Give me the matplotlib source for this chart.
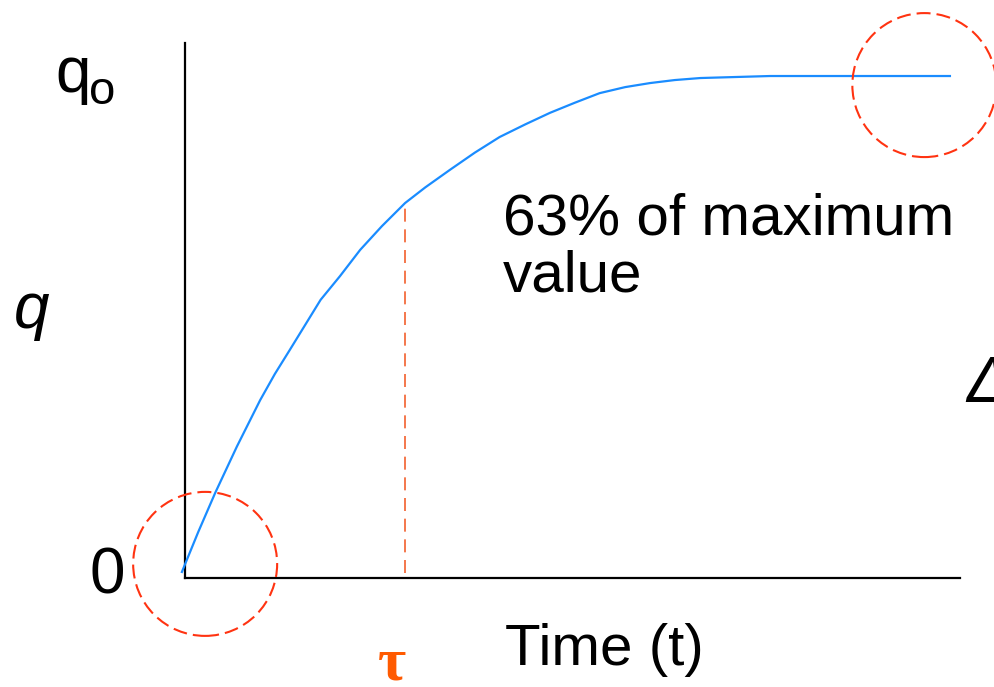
import matplotlib
matplotlib.use("Agg")
import matplotlib.pyplot as plt
from matplotlib.patches import Ellipse

# data (t in axis units 0..10, q as fraction of q0)
time_pts = [-0.04, 0.17, 0.39, 0.67, 0.97, 1.16, 1.35, 1.55, 1.75, 2.00,
            2.26, 2.54, 2.84, 3.10, 3.42, 3.74, 4.06, 4.39, 4.71, 5.03,
            5.35, 5.68, 6.00, 6.32, 6.65, 7.55, 8.62, 9.87]
q_pts = [0.012, 0.091, 0.169, 0.261, 0.353, 0.405, 0.452, 0.502, 0.552, 0.599,
         0.651, 0.698, 0.744, 0.775, 0.810, 0.844, 0.875, 0.900, 0.923, 0.943,
         0.962, 0.974, 0.982, 0.988, 0.992, 0.996, 0.996, 0.996]
tau = 2.84
q_at_tau = 0.744
circle_centres = [(0.26, 0.028), (9.54, 0.978)]

W, H = 995, 687
BLUE = '#1a8cff'
RED = '#ff3311'
ORANGE = '#f2602e'
FONT = 'Liberation Sans'

fig = plt.figure(figsize=(W / 100, H / 100), dpi=100)
ax = fig.add_axes([185 / W, 109 / H, 775 / W, 535 / H])
ax.set_xlim(0, 10)
ax.set_ylim(0, 535 / 504)
xpx = 775 / 10      # pixels per time unit
ypx = 504           # pixels per q unit

for s in ['top', 'right']:
    ax.spines[s].set_visible(False)
for s in ['left', 'bottom']:
    ax.spines[s].set_linewidth(1.6)
    ax.spines[s].set_color('black')
ax.set_xticks([])
ax.set_yticks([])

# response curve
ax.plot(time_pts, q_pts, color=BLUE, lw=1.6, clip_on=False, zorder=3,
        solid_joinstyle='round')

# tau marker
ax.plot([tau, tau], [0.01, q_at_tau], color=ORANGE, lw=1.2,
        linestyle=(0, (7.8, 4.6)), zorder=2)

# dashed circles
r = 72
for cx, cy in circle_centres:
    e = Ellipse((cx, cy), 2 * r / xpx, 2 * r / ypx, fill=False, edgecolor=RED,
                lw=1.5, linestyle=(0, (6.7, 2.9)), clip_on=False, zorder=4)
    ax.add_patch(e)


def ftext(x, y, s, **kw):
    fig.text(x / W, (H - y) / H, s, va='baseline', **kw)


ftext(55, 92, 'q', fontsize=46, family=FONT)
ftext(89, 104, 'o', fontsize=34, family=FONT)
ftext(14, 328, 'q', fontsize=46, family=FONT, style='italic')
ftext(90, 593, '0', fontsize=46, family=FONT)
ftext(503, 291, '63% of maximum\nvalue', fontsize=42, family=FONT,
      linespacing=1.06)
ftext(505, 665, 'Time (t)', fontsize=42, family=FONT)
ftext(966, 402, 'Δ', fontsize=46, family=FONT, style='italic')
ftext(392, 680, 'τ', fontsize=44, family='Liberation Serif', weight='bold',
      color='#ff5a00', ha='center')

fig.savefig('out.png', dpi=100)
